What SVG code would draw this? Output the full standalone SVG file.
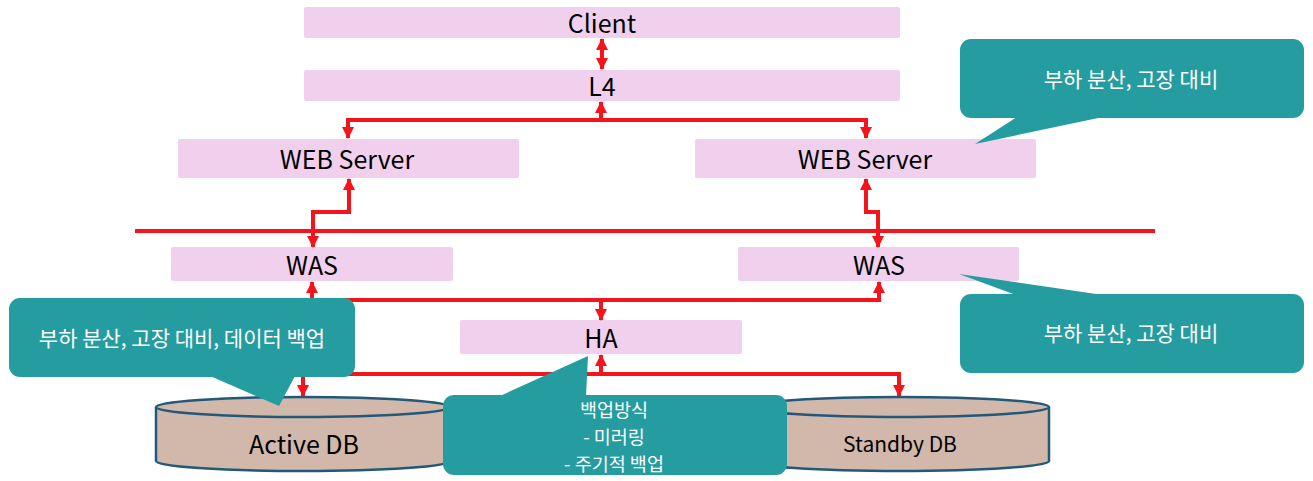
<svg xmlns="http://www.w3.org/2000/svg" width="1313" height="481" viewBox="0 0 1313 481">
<defs>
<style>
.box{fill:#F1D0EE}
.lbl{font-family:"Noto Sans CJK KR","Noto Sans",sans-serif;font-size:25px;fill:#000;text-anchor:middle;dominant-baseline:central}
.conn{fill:none;stroke:#F5141C;stroke-width:4}
.db{fill:#D2B8AA;stroke:#22597A;stroke-width:2.5}
.call{fill:#259C9F}
.ct{font-family:"Noto Sans CJK KR","Noto Sans",sans-serif;font-size:21px;fill:#fff;text-anchor:middle;dominant-baseline:central}
.cs{font-size:18.5px}
</style>
<marker id="ah" viewBox="0 0 12 12" refX="11" refY="6" markerWidth="12" markerHeight="12" markerUnits="userSpaceOnUse" orient="auto-start-reverse">
<path d="M0,0 L12,6 L0,12 Z" fill="#F5141C"/>
</marker>
</defs>
<rect width="1313" height="481" fill="#fff"/>

<g id="client"><rect class="box" x="304" y="7" width="596" height="31" rx="2"/><text class="lbl" x="602" y="22">Client</text></g>
<g id="l4"><rect class="box" x="304" y="70" width="596" height="31" rx="2"/><text class="lbl" x="602" y="85">L4</text></g>
<g id="web1"><rect class="box" x="178" y="139" width="341" height="39" rx="2"/><text class="lbl" x="347" y="158">WEB Server</text></g>
<g id="web2"><rect class="box" x="695" y="139" width="341" height="39" rx="2"/><text class="lbl" x="865" y="158">WEB Server</text></g>
<g id="was1"><rect class="box" x="171" y="247" width="282" height="34" rx="2"/><text class="lbl" x="312" y="264">WAS</text></g>
<g id="was2"><rect class="box" x="738" y="247" width="281" height="34" rx="2"/><text class="lbl" x="879" y="264">WAS</text></g>
<g id="ha"><rect class="box" x="460" y="320" width="282" height="34" rx="2"/><text class="lbl" x="601" y="337">HA</text></g>

<g id="connectors">
<line x1="135" y1="231" x2="1155" y2="231" stroke="#F5141C" stroke-width="4"/>
<path class="conn" d="M602 39 V69" marker-start="url(#ah)" marker-end="url(#ah)"/>
<path class="conn" d="M348 138 V120 H866 V138" marker-start="url(#ah)" marker-end="url(#ah)"/>
<path class="conn" d="M601 120 V102" marker-end="url(#ah)"/>
<path class="conn" d="M349 179 V212 H313 V247" marker-start="url(#ah)" marker-end="url(#ah)"/>
<path class="conn" d="M866 179 V212 H878 V247" marker-start="url(#ah)" marker-end="url(#ah)"/>
<path class="conn" d="M312 282 V300 H879 V282" marker-start="url(#ah)" marker-end="url(#ah)"/>
<path class="conn" d="M601 300 V320" marker-end="url(#ah)"/>
<path class="conn" d="M303 396 V374 H899 V396" marker-start="url(#ah)" marker-end="url(#ah)"/>
<path class="conn" d="M601 374 V355" marker-end="url(#ah)"/>
</g>

<g id="activedb">
<path class="db" d="M156 407 V461 A147 10 0 0 0 450 461 V407"/>
<ellipse class="db" cx="303" cy="407" rx="147" ry="10"/>
<text class="lbl" x="304" y="443">Active DB</text>
</g>
<g id="standbydb">
<path class="db" d="M751 407 V461 A149 10 0 0 0 1049 461 V407"/>
<ellipse class="db" cx="900" cy="407" rx="149" ry="10"/>
<text class="lbl" x="900" y="443" style="font-size:21px">Standby DB</text>
</g>

<g id="callout-top">
<rect class="call" x="960" y="39" width="344" height="79" rx="11"/>
<polygon class="call" points="1017,117 975,144 1103,117"/>
<text class="ct" x="1131" y="78">부하 분산, 고장 대비</text>
</g>
<g id="callout-mid">
<rect class="call" x="960" y="294" width="344" height="79" rx="11"/>
<polygon class="call" points="1016,295 959,274 1103,295"/>
<text class="ct" x="1131" y="332">부하 분산, 고장 대비</text>
</g>
<g id="callout-left">
<rect class="call" x="9" y="298" width="346" height="79" rx="11"/>
<polygon class="call" points="210,376 279,406 295,376"/>
<text class="ct" x="182" y="337">부하 분산, 고장 대비, 데이터 백업</text>
</g>
<g id="callout-center">
<rect class="call" x="443" y="395" width="344" height="80" rx="11"/>
<polygon class="call" points="500,396 588,356 586,396"/>
<text class="ct cs" x="614" y="409">백업방식</text>
<text class="ct cs" x="614" y="436">- 미러링</text>
<text class="ct cs" x="614" y="463">- 주기적 백업</text>
</g>
</svg>
